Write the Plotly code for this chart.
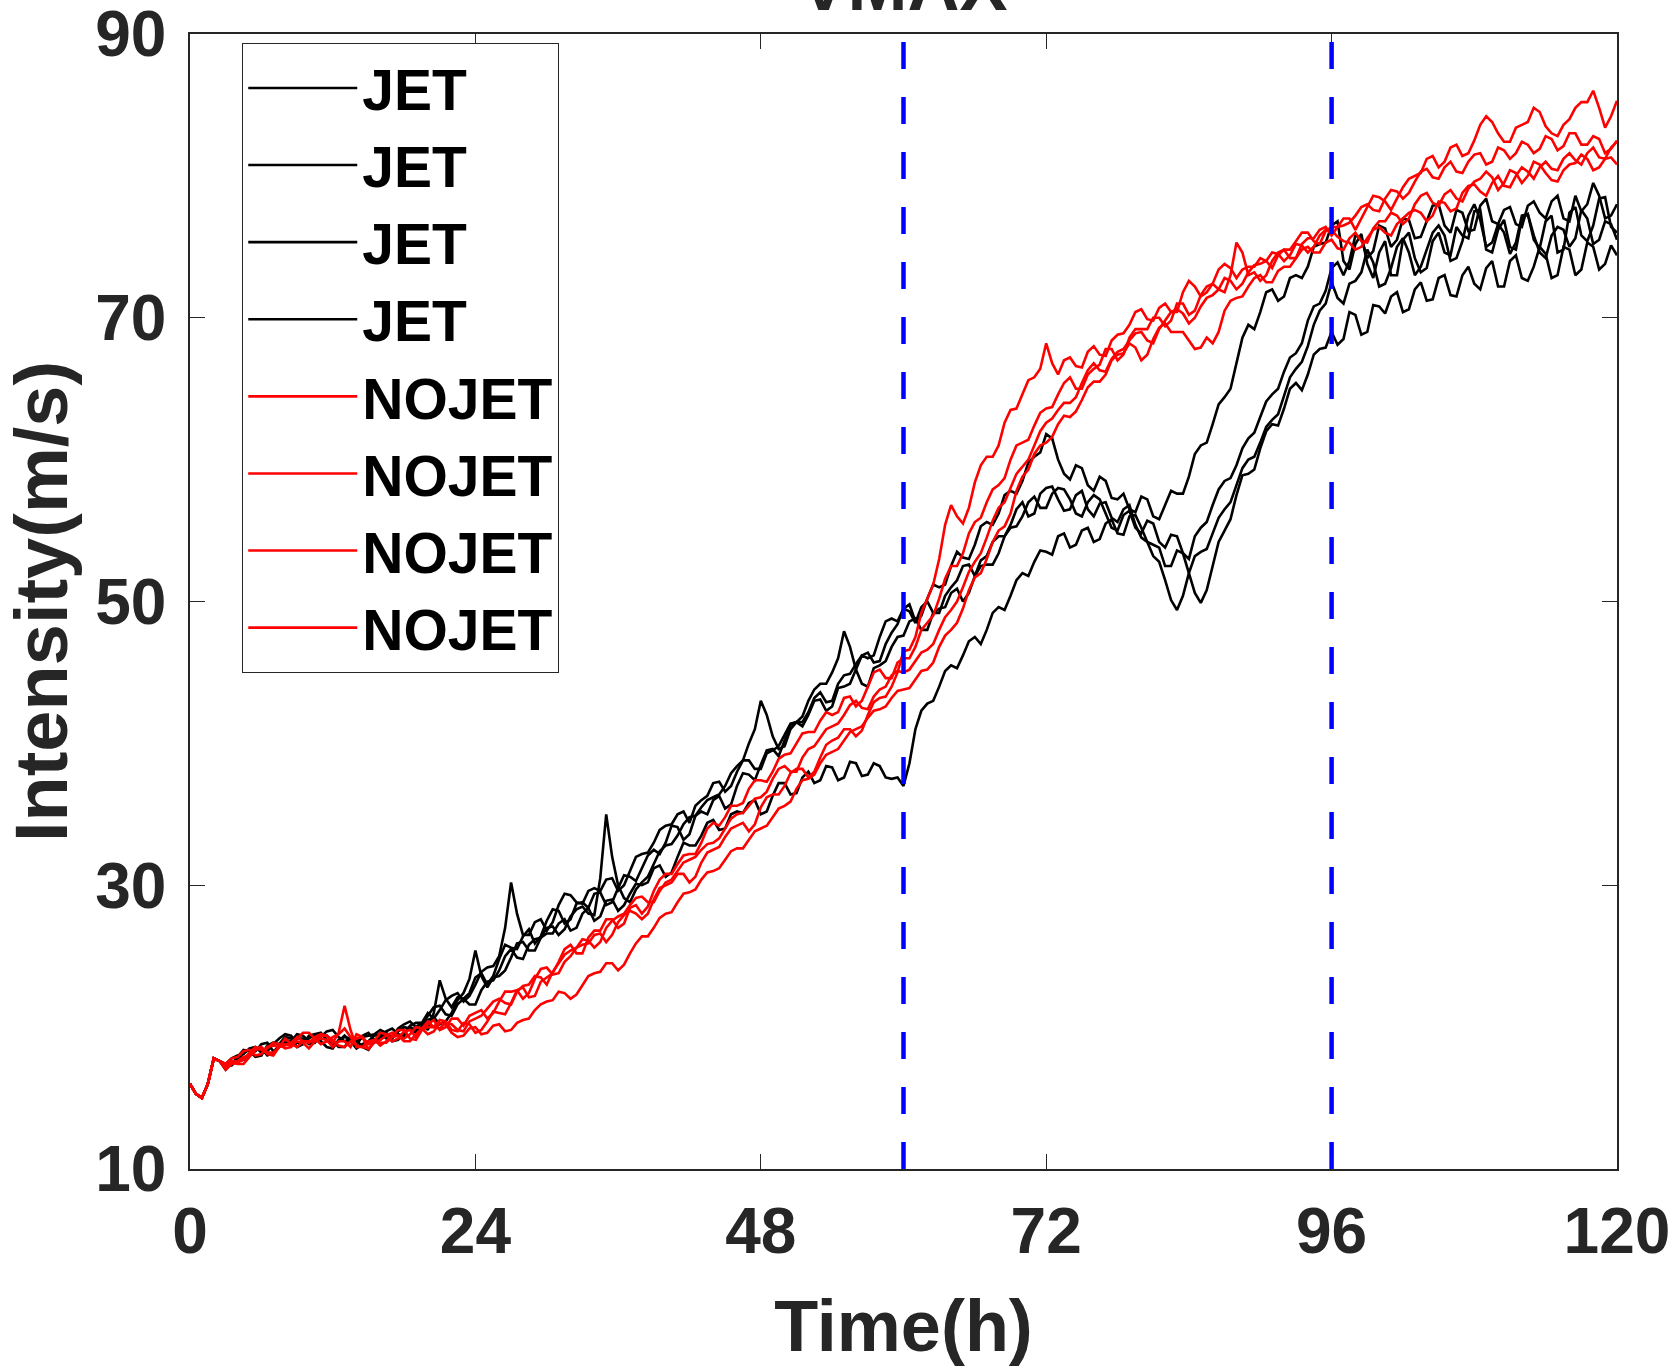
import plotly.graph_objects as go

# ---------------- data ----------------
# values on the full hours 0..120
hours = list(range(0, 121))
# values on the half hours 0.5..119.5
half_hours = [h + 0.5 for h in range(0, 120)]

jet_1 = [16.0, 15.0, 17.8, 17.2, 17.9, 18.3, 18.0, 18.9, 19.3, 18.6, 19.4, 19.0, 18.5, 19.3, 18.7, 19.6, 19.1, 19.9, 19.4, 20.3, 19.8,
         23.3, 21.4, 22.0, 23.5, 23.0, 24.8, 25.6, 26.4, 25.9, 27.5, 28.2, 27.6, 28.8, 29.4, 28.6, 29.8, 30.6, 31.2, 32.5, 33.0,
         34.1, 33.6, 35.2, 36.0, 35.4, 37.0, 37.8, 38.5, 39.6, 40.2, 41.5, 42.0, 43.1, 42.6, 44.0, 45.2, 46.0, 47.5, 48.8, 49.5,
         48.6, 50.2, 51.0, 52.5, 53.1, 54.0, 55.6, 56.2, 57.8, 58.5, 60.2, 61.8,
         60.0, 58.6, 59.4, 57.8, 58.5, 57.2, 56.5, 57.4, 56.0, 56.8, 57.6, 58.8, 61.0, 62.5, 64.4, 66.8, 69.5, 70.4, 72.0, 71.5, 73.0, 73.6, 75.2, 76.5,
         74.0, 75.2, 73.8, 74.6, 73.0, 75.5, 74.2, 73.5, 76.0, 74.4, 75.8, 77.5, 74.8, 76.2, 75.0, 77.0, 75.5, 76.8, 74.6, 77.4, 75.8, 76.5, 78.5, 76.0]
jet_1_half = [15.3, 16.0, 17.6,
              17.4, 18.4, 17.9, 18.7, 18.8, 19.2, 18.8, 19.5, 18.6, 19.1, 19.2, 19.4, 19.1, 19.7, 19.5, 20.1, 20.3,
              21.0, 22.0, 22.1, 22.4, 23.8, 23.6, 25.8, 25.5, 26.9, 26.4, 28.3, 27.3, 28.7, 28.4, 29.5, 28.8, 30.7, 30.3, 32.1, 32.2,
              34.2, 33.2, 34.9, 35.0, 36.3, 35.7, 37.9, 37.4, 39.5, 39.1, 41.3, 41.2, 43.0, 42.3, 43.9, 44.2, 46.2, 46.2, 48.6, 48.6,
              49.8, 49.0, 51.2, 51.2, 53.5, 53.0, 55.3, 55.4, 57.5, 57.6, 59.8, 60.5,
              61.5, 59.0, 59.6, 58.2, 58.8, 57.3, 57.6, 56.3, 57.2, 55.8, 57.8, 57.6, 60.4, 61.2, 63.9, 65.0, 68.6, 69.2, 71.8, 71.2, 72.8, 72.8, 75.0, 75.3,
              76.8, 73.4, 75.9, 72.8, 75.4, 73.0, 76.0, 73.2, 75.4, 74.6, 76.4, 75.6, 77.6, 74.6, 76.9, 74.8, 77.3, 74.9, 77.2, 74.8, 77.8, 75.4, 78.4, 76.4]

jet_2 = [16.0, 15.0, 17.8, 17.0, 17.6, 18.1, 18.5, 18.2, 18.9, 19.2, 18.8, 19.5, 19.0, 18.6, 19.1, 18.4, 19.3, 19.0, 19.6, 19.8, 20.5,
         20.2, 21.0, 22.4, 25.4, 22.8, 23.6, 24.9, 26.0, 25.4, 26.6, 27.3, 26.8, 28.0, 27.5, 28.9, 28.2, 29.4, 30.0, 31.2, 30.6,
         32.0, 32.8, 33.5, 34.6, 34.0, 35.2, 35.8, 35.0, 36.3, 37.2, 36.5, 38.0, 37.4, 38.3, 37.6, 38.6, 37.8, 38.4, 37.5, 37.0,
         41.0, 42.8, 44.0, 45.5, 46.2, 47.5, 48.0, 49.6, 50.4, 52.0, 52.8, 53.5,
         54.6, 53.8, 55.0, 54.2, 55.5, 54.8, 56.0, 55.2, 54.0, 52.5, 53.6, 52.0, 49.9, 52.5, 55.0, 57.5, 59.0, 60.8, 62.5, 63.6, 65.4, 66.0, 67.8, 69.0,
         68.5, 70.2, 69.0, 70.8, 71.5, 70.4, 72.0, 71.2, 72.8, 71.6, 73.0, 72.4, 73.5, 72.2, 74.0, 72.8, 73.6, 74.5, 73.0, 74.8, 73.4, 75.0, 73.8, 74.4]
jet_2_half = [15.3, 16.0, 17.6,
              17.5, 17.7, 18.4, 18.0, 18.7, 18.9, 19.2, 18.9, 19.4, 18.6, 19.2, 18.6, 19.0, 19.4, 19.1, 20.0, 19.9,
              20.7, 20.4, 21.9, 23.4, 23.6, 23.5, 24.0, 25.9, 25.4, 26.3, 26.6, 27.6, 27.0, 28.4, 27.8, 29.0, 28.6, 30.1, 30.2, 31.4,
              30.9, 33.0, 32.8, 34.4, 33.9, 35.0, 35.1, 36.0, 35.2, 37.2, 36.4, 37.6, 37.2, 38.4, 37.4, 38.7, 37.7, 38.6, 37.6, 37.6,
              38.6, 42.3, 43.0, 45.1, 45.3, 47.2, 47.0, 49.2, 49.4, 51.5, 51.8, 53.6,
              53.3, 54.8, 54.0, 55.2, 54.4, 55.8, 54.7, 56.1, 54.2, 53.8, 52.5, 53.4, 50.6, 50.8, 54.2, 55.8, 58.9, 59.3, 62.0, 62.4, 65.0, 64.9, 67.4, 67.9,
              68.1, 70.4, 68.8, 70.9, 70.3, 71.8, 70.6, 72.5, 71.3, 73.0, 71.5, 73.6, 72.0, 74.0, 72.2, 74.4, 72.6, 75.0, 72.8, 75.0, 73.0, 75.3, 73.4, 75.1]

jet_3 = [16.0, 15.0, 17.8, 17.4, 18.0, 18.5, 18.2, 18.8, 19.5, 18.9, 19.2, 19.6, 18.8, 19.4, 18.5, 19.0, 19.5, 19.2, 20.0, 19.6, 20.8,
         21.5, 20.8, 22.0, 21.6, 23.2, 24.0, 25.5, 24.8, 26.2, 27.0, 26.5, 27.8, 28.5, 27.9, 35.0, 30.0, 28.8, 30.2, 31.5, 32.8,
         33.5, 34.8, 35.5, 36.2, 37.0, 38.4, 40.0, 43.0, 40.5, 39.8, 41.5, 42.2, 43.6, 43.0, 44.8, 45.6, 46.4, 45.8, 47.8, 49.5,
         48.5, 50.0, 49.2, 51.0, 52.5, 51.8, 53.2, 54.6, 55.4, 57.0, 56.2, 58.0,
         57.2, 56.5, 57.8, 56.0, 57.0, 55.6, 56.8, 54.5, 53.2, 51.5, 49.4, 52.0, 53.5, 54.8, 56.5, 58.2, 60.0, 61.2, 62.8, 64.5, 66.4, 68.0, 70.5, 72.5,
         71.0, 72.6, 74.8, 72.2, 73.5, 75.6, 73.0, 74.8, 76.5, 74.0, 75.4, 78.0, 75.0, 76.6, 74.5, 77.2, 75.8, 74.2, 76.4, 75.0, 77.6, 75.2, 76.8, 75.5]
jet_3_half = [15.3, 16.0, 17.6,
              17.8, 18.1, 18.6, 18.3, 19.2, 19.4, 18.9, 19.5, 19.1, 19.0, 19.0, 18.8, 19.4, 19.2, 19.7, 19.9, 20.1,
              21.4, 20.9, 21.6, 21.6, 22.6, 23.3, 25.0, 24.9, 25.8, 26.3, 27.1, 26.9, 28.3, 28.0, 30.5, 32.0, 29.1, 29.7, 30.6, 32.4,
              32.9, 34.3, 34.9, 36.0, 36.4, 37.9, 38.8, 41.0, 42.0, 39.6, 41.0, 41.5, 43.2, 42.9, 44.2, 44.9, 46.2, 45.7, 47.0, 48.4,
              49.3, 49.6, 49.2, 50.4, 51.5, 52.6, 52.9, 54.2, 54.6, 56.5, 56.0, 57.6,
              58.1, 56.4, 57.5, 56.5, 56.9, 55.9, 56.5, 55.4, 54.2, 52.8, 50.1, 50.4, 53.2, 53.7, 55.9, 57.0, 59.4, 60.2, 62.3, 63.2, 65.8, 66.9, 69.5, 71.0,
              71.4, 72.4, 73.2, 73.9, 72.4, 75.0, 74.6, 73.6, 76.0, 75.8, 74.2, 77.2, 76.9, 75.3, 76.0, 75.3, 77.3, 74.6, 75.8, 76.2, 75.6, 77.0, 75.5, 76.6]

jet_4 = [16.0, 15.0, 17.8, 17.3, 17.7, 18.4, 18.8, 18.3, 19.1, 19.5, 19.0, 19.3, 19.8, 19.0, 18.9, 19.4, 19.8, 19.3, 20.2, 20.0, 21.0,
         21.2, 22.2, 21.8, 23.0, 24.2, 25.0, 30.2, 26.5, 27.4, 26.8, 28.6, 29.3, 28.7, 29.8, 30.4, 29.6, 31.0, 32.2, 33.0, 34.2,
         35.0, 34.4, 36.0, 37.2, 36.6, 38.0, 38.8, 38.2, 39.5, 40.6, 41.5, 43.0, 44.2, 45.0, 47.9, 45.2, 44.0, 45.5, 46.8, 47.6,
         48.8, 48.0, 49.5, 50.6, 50.0, 51.8, 52.6, 53.4, 55.2, 56.0, 57.4, 56.6,
         58.0, 57.2, 56.0, 57.5, 56.2, 55.0, 56.4, 54.8, 55.5, 53.8, 54.6, 53.0, 55.2, 56.8, 58.5, 59.6, 61.5, 63.0, 64.6, 66.2, 67.5, 69.8, 71.0, 73.5,
         73.0, 75.8, 74.2, 76.5, 75.0, 77.0, 75.6, 76.8, 78.0, 76.0, 77.4, 76.2, 78.4, 76.6, 77.8, 76.4, 78.2, 77.0, 78.6, 76.8, 77.5, 79.5, 77.0, 78.0]
jet_4_half = [15.3, 16.0, 17.6,
              17.3, 18.2, 18.3, 18.9, 18.6, 19.0, 19.4, 19.0, 19.7, 19.3, 19.2, 19.3, 19.5, 19.6, 19.9, 20.4, 20.3,
              20.6, 21.9, 22.4, 22.2, 23.9, 24.3, 27.0, 28.0, 26.5, 27.6, 27.4, 29.4, 28.8, 29.6, 29.6, 30.5, 30.0, 32.0, 32.3, 33.9,
              34.3, 35.2, 35.6, 36.3, 37.3, 37.0, 38.8, 38.2, 39.3, 39.8, 41.4, 41.9, 43.8, 44.2, 46.0, 46.8, 44.2, 45.3, 45.8, 47.5,
              48.6, 48.0, 49.2, 49.6, 50.9, 50.6, 52.5, 52.6, 54.6, 55.3, 57.0, 56.6,
              57.6, 57.9, 56.2, 57.0, 57.2, 55.2, 56.1, 55.2, 55.7, 54.2, 54.7, 53.4, 54.6, 55.6, 57.9, 58.7, 60.8, 61.9, 64.1, 65.0, 67.2, 68.2, 70.8, 71.9,
              73.9, 74.0, 75.6, 74.7, 76.3, 75.5, 76.9, 75.7, 77.9, 76.5, 77.6, 76.1, 77.9, 76.8, 77.6, 76.6, 77.9, 77.4, 78.2, 77.0, 78.6, 78.0, 78.6, 77.2]

nojet_1 = [16.0, 15.0, 17.8, 17.2, 17.6, 18.0, 18.6, 18.2, 18.7, 19.3, 18.9, 19.5, 19.1, 18.6, 19.2, 18.8, 19.6, 19.0, 19.7, 19.3, 20.2,
           19.8, 20.6, 20.1, 21.0, 20.6, 21.8, 22.5, 22.0, 23.4, 24.2, 23.8, 25.0, 25.8, 26.5, 26.0, 27.4, 28.2, 27.6, 29.0, 30.0,
           30.8, 30.2, 31.6, 32.5, 33.4, 34.2, 33.8, 35.5, 36.4, 37.0, 38.2, 37.6, 39.0, 40.2, 41.0, 40.5, 42.0, 43.2, 44.0, 46.5,
           47.5, 50.2, 53.0, 56.8, 55.5, 58.4, 60.2, 61.0, 63.5, 64.6, 65.8, 68.2,
           66.0, 67.2, 66.5, 68.0, 67.3, 68.8, 69.5, 70.6, 69.8, 71.0, 70.4, 72.6, 71.5, 72.4, 73.8, 72.8, 73.6, 74.2, 73.5, 74.8, 75.4, 76.0, 75.2, 76.4,
           77.0, 76.2, 77.8, 78.5, 77.6, 79.2, 80.0, 81.2, 80.6, 82.0, 81.4, 82.5, 84.2, 83.0, 82.4, 83.6, 84.8, 83.5, 82.8, 84.0, 85.2, 86.0, 83.4, 85.3]
nojet_1_half = [15.3, 16.0, 17.6,
                17.6, 17.9, 18.5, 18.2, 18.6, 18.9, 19.0, 19.3, 19.4, 18.7, 19.0, 19.3, 19.0, 19.5, 19.2, 19.8, 19.9,
                20.5, 20.0, 20.6, 20.8, 21.2, 21.0, 22.5, 22.6, 22.4, 24.1, 23.7, 24.6, 25.6, 25.9, 26.6, 26.5, 27.9, 28.0, 28.0, 29.8,
                30.2, 30.8, 30.6, 32.3, 32.7, 34.0, 34.4, 34.3, 36.2, 36.4, 37.9, 38.2, 38.0, 39.9, 40.4, 41.0, 40.9, 42.9, 43.3, 45.0,
                46.6, 49.2, 51.2, 55.4, 56.0, 56.6, 59.6, 60.2, 62.6, 63.6, 65.6, 66.4,
                66.8, 67.0, 66.6, 67.6, 67.4, 68.4, 68.9, 70.4, 69.9, 70.7, 70.4, 71.8, 72.2, 71.8, 73.4, 73.5, 73.4, 73.6, 74.0, 74.4, 74.8, 76.0, 75.4, 76.1,
                76.4, 77.0, 77.0, 78.6, 78.2, 78.4, 79.8, 80.2, 81.4, 81.0, 82.2, 81.6, 83.6, 83.8, 82.4, 83.4, 83.8, 84.5, 83.0, 83.6, 84.8, 85.2, 84.8, 84.2]

nojet_2 = [16.0, 15.0, 17.8, 17.0, 17.5, 18.2, 18.4, 18.9, 18.5, 19.2, 19.6, 18.8, 19.3, 19.9, 18.7, 18.5, 19.1, 19.6, 19.2, 20.0, 19.5,
           20.3, 19.6, 19.4, 20.0, 19.6, 20.2, 19.8, 20.5, 21.2, 21.8, 22.5, 22.0, 23.0, 23.8, 24.5, 24.0, 25.2, 26.4, 27.0, 28.0,
           28.8, 29.5, 30.4, 31.0, 31.8, 32.6, 33.2, 34.0, 34.8, 35.6, 36.8, 37.5, 38.6, 39.4, 40.2, 41.0, 41.8, 42.4, 43.2, 43.8,
           44.5, 45.2, 46.8, 48.0, 49.5, 51.7, 53.0, 55.0, 56.2, 58.8, 60.4, 61.2,
           62.5, 63.0, 64.2, 65.5, 66.0, 67.4, 68.2, 67.0, 68.5, 69.6, 69.0, 68.4, 67.9, 68.2, 70.5, 71.4, 72.2, 73.0, 72.5, 73.6, 74.2, 75.0, 74.6, 75.5,
           74.8, 76.0, 75.3, 76.8, 77.4, 76.6, 78.0, 78.8, 77.9, 79.0, 78.2, 79.6, 80.3, 79.0, 80.4, 79.5, 81.0, 80.2, 79.6, 80.8, 81.5, 80.4, 81.2, 80.8]
nojet_2_half = [15.3, 16.0, 17.6,
                17.4, 17.7, 18.6, 18.5, 18.8, 18.6, 19.6, 19.2, 19.0, 19.5, 19.3, 18.6, 18.9, 19.4, 19.4, 19.5, 19.9,
                19.7, 20.2, 19.3, 19.9, 19.5, 20.1, 19.7, 20.3, 20.6, 21.6, 21.9, 22.4, 22.3, 23.6, 23.9, 24.5, 24.4, 25.9, 26.4, 27.7,
                28.1, 29.4, 29.7, 30.9, 31.2, 32.4, 32.6, 33.8, 34.2, 35.4, 35.9, 37.4, 37.8, 39.2, 39.6, 40.8, 41.2, 42.3, 42.6, 43.7,
                43.9, 45.1, 45.7, 47.6, 48.5, 50.8, 52.0, 54.2, 55.3, 57.8, 59.3, 61.0,
                61.6, 63.1, 63.4, 65.1, 65.5, 67.0, 67.5, 67.9, 67.4, 69.3, 69.0, 69.0, 67.8, 68.6, 69.0, 71.2, 71.5, 72.8, 72.5, 73.3, 73.6, 74.8, 74.6, 75.3,
                74.9, 75.6, 75.4, 76.3, 76.8, 77.2, 77.0, 78.6, 78.1, 78.7, 78.4, 79.1, 79.8, 79.9, 79.5, 80.2, 80.0, 80.8, 79.7, 80.4, 80.9, 81.2, 80.6, 81.3]

nojet_3 = [16.0, 15.0, 17.8, 17.4, 17.9, 18.4, 18.1, 18.7, 19.2, 18.6, 19.0, 19.4, 18.9, 21.5, 18.6, 19.0, 18.7, 19.4, 19.8, 19.1, 20.0,
           20.5, 19.8, 20.3, 19.6, 20.4, 21.0, 21.7, 22.8, 22.2, 23.5, 24.6, 25.8, 25.2, 26.8, 27.6, 27.0, 28.4, 28.0, 29.6, 30.8,
           31.5, 32.2, 33.0, 34.4, 34.8, 35.6, 36.8, 37.4, 38.0, 39.2, 40.0, 40.8, 41.6, 42.0, 43.2, 42.6, 44.0, 45.2, 44.6, 46.0,
           46.8, 48.5, 50.2, 52.5, 53.4, 55.6, 57.0, 58.2, 60.0, 61.2, 62.4, 63.6,
           64.6, 65.8, 65.0, 66.4, 67.8, 67.0, 68.6, 69.2, 70.0, 69.4, 71.0, 70.2, 71.6, 72.4, 71.8, 75.3, 73.0, 72.6, 74.0, 74.8, 74.2, 75.6, 76.2, 75.8,
           76.5, 77.2, 78.0, 77.5, 79.0, 78.4, 79.6, 80.5, 79.8, 81.0, 80.2, 81.5, 80.8, 82.0, 81.2, 82.4, 81.6, 82.8, 81.8, 83.0, 82.2, 82.8, 81.6, 82.5]
nojet_3_half = [15.3, 16.0, 17.6,
                17.8, 18.3, 18.0, 18.6, 18.6, 18.8, 19.0, 19.0, 19.4, 19.6, 19.8, 18.6, 19.1, 19.0, 19.8, 19.2, 19.8,
                20.0, 20.4, 19.7, 20.2, 19.8, 21.1, 20.9, 22.6, 22.1, 23.2, 23.8, 25.5, 25.2, 26.3, 26.8, 27.6, 27.3, 28.6, 28.5, 30.4,
                30.8, 32.1, 32.2, 34.0, 34.2, 35.6, 35.8, 37.4, 37.3, 38.9, 39.3, 40.7, 40.8, 42.2, 42.2, 43.3, 43.0, 45.0, 44.6, 45.7,
                46.0, 48.0, 49.0, 51.6, 52.5, 54.8, 55.9, 57.9, 58.7, 61.0, 61.4, 63.3,
                63.7, 65.4, 65.0, 66.0, 66.7, 67.8, 67.4, 69.2, 69.2, 70.0, 69.8, 71.0, 70.5, 72.2, 72.0, 73.0, 74.6, 73.2, 73.0, 74.6, 74.2, 75.2, 75.6, 76.4,
                76.4, 76.7, 77.8, 77.6, 78.4, 78.9, 78.8, 80.3, 79.9, 80.6, 80.3, 81.0, 81.6, 81.0, 81.8, 81.6, 82.2, 81.9, 82.6, 82.1, 83.0, 82.2, 82.6, 81.9]

nojet_4 = [16.0, 15.0, 17.8, 17.1, 17.4, 17.9, 18.5, 18.0, 18.8, 19.0, 18.5, 19.2, 18.6, 19.0, 19.5, 18.4, 18.9, 19.3, 19.0, 19.5, 20.4,
           19.9, 20.2, 19.7, 20.6, 21.3, 22.0, 21.6, 22.9, 23.6, 23.0, 24.5, 25.4, 26.2, 25.6, 27.0, 27.8, 28.6, 29.2, 28.8, 30.2,
           31.0, 31.8, 32.5, 33.0, 34.0, 35.0, 35.6, 36.2, 37.5, 38.4, 38.0, 39.6, 40.4, 41.2, 42.0, 43.0, 42.4, 43.8, 44.8, 45.0,
           45.8, 46.6, 48.0, 49.4, 51.0, 52.8, 54.5, 56.6, 58.0, 59.5, 61.0, 62.6,
           63.5, 64.0, 65.4, 66.8, 66.2, 67.6, 68.4, 69.0, 68.2, 69.8, 70.6, 69.6, 70.8, 71.6, 72.8, 72.0, 73.2, 73.8, 74.6, 74.0, 75.2, 74.6, 75.8, 76.2,
           75.4, 74.8, 75.6, 76.4, 75.8, 77.0, 77.6, 76.8, 78.2, 77.5, 78.8, 79.4, 78.6, 80.0, 79.2, 80.6, 79.8, 81.0, 80.4, 81.6, 80.8, 82.0, 81.2, 82.4]
nojet_4_half = [15.3, 16.0, 17.6,
                17.5, 17.4, 18.4, 18.1, 18.6, 18.7, 18.9, 19.0, 19.1, 19.0, 18.6, 19.3, 19.0, 18.9, 19.4, 19.0, 19.9,
                20.0, 20.3, 19.8, 20.4, 20.8, 21.8, 21.7, 22.5, 23.0, 23.5, 23.9, 25.1, 25.6, 26.1, 26.0, 27.5, 28.0, 29.1, 28.8, 29.6,
                30.4, 31.6, 32.0, 32.9, 33.3, 34.7, 35.1, 36.1, 36.6, 38.2, 38.0, 39.0, 39.8, 41.0, 41.4, 42.7, 42.5, 43.3, 44.0, 45.1,
                45.2, 46.4, 47.0, 48.9, 50.0, 52.1, 53.4, 55.7, 57.0, 59.0, 60.0, 62.0,
                62.9, 64.0, 64.4, 66.3, 66.3, 67.1, 67.8, 68.9, 68.4, 69.2, 70.4, 70.3, 70.0, 71.4, 72.0, 72.6, 72.4, 73.7, 74.0, 74.5, 74.4, 75.1, 75.0, 76.2,
                75.7, 75.3, 75.0, 76.2, 76.0, 76.6, 77.4, 77.4, 77.2, 78.1, 77.7, 79.3, 78.9, 79.5, 79.3, 80.0, 80.3, 80.6, 80.5, 81.2, 81.1, 81.6, 81.3, 82.0]

jet_series = [(jet_1, jet_1_half), (jet_2, jet_2_half), (jet_3, jet_3_half), (jet_4, jet_4_half)]
nojet_series = [(nojet_1, nojet_1_half), (nojet_2, nojet_2_half), (nojet_3, nojet_3_half), (nojet_4, nojet_4_half)]

event_hours = [60, 96]
x_ticks = [0, 24, 48, 72, 96, 120]
y_ticks = [10, 30, 50, 70, 90]
x_range = [0, 120]
y_range = [10, 90]


def merge(full_vals, half_vals):
    """Put the full-hour and half-hour readings in time order."""
    assert len(full_vals) == len(hours) and len(half_vals) == len(half_hours)
    pts = sorted(list(zip(hours, full_vals)) + list(zip(half_hours, half_vals)))
    return [p[0] for p in pts], [p[1] for p in pts]


# ---------------- styling ----------------
FONT = "Liberation Sans, Arial, Helvetica, sans-serif"
AX = "#262626"

fig = go.Figure()

for full_vals, half_vals in jet_series:
    tx, ty = merge(full_vals, half_vals)
    fig.add_trace(go.Scatter(x=tx, y=ty, mode="lines", name="JET",
                             line=dict(color="#000000", width=2.6)))
for full_vals, half_vals in nojet_series:
    tx, ty = merge(full_vals, half_vals)
    fig.add_trace(go.Scatter(x=tx, y=ty, mode="lines", name="NOJET",
                             line=dict(color="#FF0000", width=2.6)))
for h in event_hours:
    fig.add_trace(go.Scatter(x=[h, h], y=y_range, mode="lines", showlegend=False,
                             hoverinfo="skip",
                             line=dict(color="#0000FF", width=4.5, dash="27px,28px")))

fig.update_layout(
    template="none",
    width=1677, height=1366, autosize=False,
    margin=dict(l=190, r=60, t=34, b=197, pad=0),
    paper_bgcolor="white", plot_bgcolor="white",
    title=dict(text="VMAX", x=0.5, xanchor="center", xref="paper", yref="paper",
               y=1, yanchor="bottom", pad=dict(b=24, t=0, l=0, r=0),
               font=dict(family=FONT, size=72, color=AX, weight="bold")),
    showlegend=True,
    legend=dict(x=0.0364, y=0.992, xanchor="left", yanchor="top",
                bgcolor="white", bordercolor=AX, borderwidth=1.3,
                font=dict(family=FONT, size=57, color="#000000", weight="bold"),
                itemwidth=109, tracegroupgap=0),
)

fig.update_xaxes(range=x_range, tickmode="array", tickvals=x_ticks,
                 ticktext=[str(v) for v in x_ticks],
                 ticks="inside", ticklen=15, tickwidth=1.2, tickcolor=AX,
                 showline=True, linewidth=1.5, linecolor=AX, mirror="ticks",
                 showgrid=False, zeroline=False, automargin=False,
                 ticklabeloverflow="allow",
                 tickfont=dict(family=FONT, size=64, color=AX, weight="bold"),
                 ticklabelstandoff=5,
                 title=dict(text="Time(h)", standoff=37,
                            font=dict(family=FONT, size=72, color=AX, weight="bold")))

fig.update_yaxes(range=y_range, tickmode="array", tickvals=y_ticks,
                 ticktext=[str(v) for v in y_ticks],
                 ticks="inside", ticklen=15, tickwidth=1.2, tickcolor=AX,
                 showline=True, linewidth=1.5, linecolor=AX, mirror="ticks",
                 showgrid=False, zeroline=False, automargin=False,
                 ticklabeloverflow="allow",
                 tickfont=dict(family=FONT, size=64, color=AX, weight="bold"),
                 ticklabelstandoff=9,
                 title=dict(text="Intensity(m/s)", standoff=18,
                            font=dict(family=FONT, size=74, color=AX, weight="bold")))

fig.write_html("out.html", include_plotlyjs=True, full_html=True,
               config={"displayModeBar": False, "responsive": False})
